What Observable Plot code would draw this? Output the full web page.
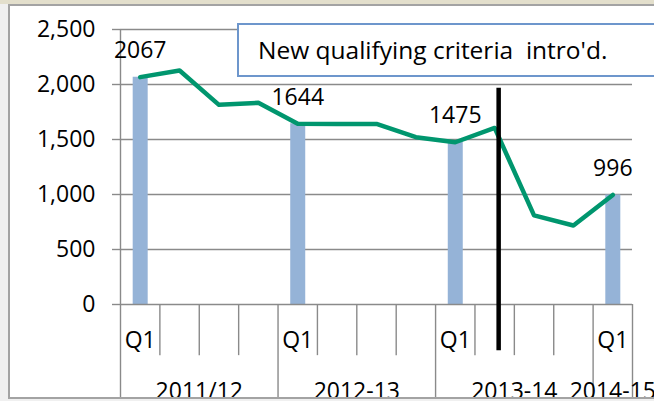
<!DOCTYPE html>
<html><head><meta charset="utf-8">
<script src="https://cdn.jsdelivr.net/npm/d3@7"></script>
<script src="https://cdn.jsdelivr.net/npm/@observablehq/plot@0.6"></script>
<style>
html,body{margin:0;padding:0;width:654px;height:401px;overflow:hidden;background:#f0f0f0;font-family:'Open Sans',sans-serif;}
#topstrip{position:absolute;left:0;top:0;width:654px;height:4px;background:#e3dfcc;}
#frame{position:absolute;left:8px;top:4px;width:700px;height:391px;border:2px solid #a3a3a3;border-right:none;background:#fff;}
#clip{position:absolute;left:10px;top:6px;width:644px;height:391px;overflow:hidden;}
#chart{position:absolute;left:-10px;top:-6px;}
#note{position:absolute;left:237px;top:23px;width:440px;height:50px;border:2px solid #6d96cc;background:#fff;padding-left:19px;line-height:50px;font-size:24.5px;white-space:pre;color:#000;}
</style></head>
<body>
<div id="topstrip"></div>
<div id="frame"></div>
<div id="clip"><div id="chart"></div></div>
<div id="note"></div>
<script>
// ---- data ----
const years = ["2011/12", "2012-13", "2013-14", "2014-15"];
const yearQuarterCounts = [4, 4, 4, 1];
const quarterLabels = ["Q1","","","","Q1","","","","Q1","","","","Q1"];
const lineValues = [2067, 2127, 1815, 1834, 1644, 1642, 1642, 1521, 1475, 1605, 810, 718, 996];
const barValues  = [2067, null, null, null, 1644, null, null, null, 1475, null, null, null, 996];
const yTicks = [0, 500, 1000, 1500, 2000, 2500];
const noteText = "New qualifying criteria  intro'd.";
const criteriaIndex = 9; // 2013-14 Q2

// ---- derived tables ----
const n = quarterLabels.length;
const rows = quarterLabels.map((q, i) => ({i, x: i + 0.5, q, line: lineValues[i], bar: barValues[i]}));
const bars = rows.filter(d => d.bar != null);
let start = 0;
const groups = years.map((y, k) => {
  const g = {year: y, start, end: start + yearQuarterCounts[k]};
  start += yearQuarterCounts[k];
  return g;
});
const groupBounds = new Set([0, ...groups.map(g => g.end)]);
const bounds = d3.range(0, n + 1);
const shortSeps = bounds.filter(b => !groupBounds.has(b));
const longSeps = bounds.filter(b => groupBounds.has(b));

const grid = "#8a8a8a";
const chart = Plot.plot({
  width: 654, height: 401,
  marginLeft: 120, marginRight: 22, marginTop: 29, marginBottom: 97,
  style: {background: "transparent", fontFamily: "'Open Sans', sans-serif", fontSize: "23px", color: "#000"},
  x: {type: "linear", domain: [0, n], axis: null},
  y: {domain: [0, 2500], axis: null},
  marks: [
    Plot.gridY(yTicks.slice(1), {stroke: grid, strokeOpacity: 1, strokeWidth: 1.4}),
    Plot.axisY(yTicks, {tickSize: 8, tickPadding: 17, tickFormat: d3.format(","), stroke: grid, strokeWidth: 1.4, fill: "#000", fontSize: 23, label: null}),
    Plot.ruleX(bars, {x: "x", y1: 0, y2: "bar", stroke: "#95b3d7", strokeWidth: 15, strokeLinecap: "butt"}),
    Plot.ruleX([0], {y1: 0, y2: 2500, stroke: grid, strokeWidth: 1.4}),
    Plot.ruleY([0], {stroke: grid, strokeWidth: 1.4}),
    Plot.ruleX(shortSeps, {x: d => d, y1: 0, y2: -465, stroke: grid, strokeWidth: 1.4}),
    Plot.ruleX(longSeps, {x: d => d, y1: 0, y2: -900, stroke: grid, strokeWidth: 1.4}),
    Plot.line(rows, {x: "x", y: "line", stroke: "#00966e", strokeWidth: 4.5, strokeLinejoin: "round"}),
    Plot.text(bars, {x: "x", y: "bar", text: d => String(d.bar), lineAnchor: "bottom", dy: -19, fontSize: 23, fill: "#000"}),
    Plot.text(rows, {x: "x", y: 0, text: "q", lineAnchor: "bottom", dy: 43, fontSize: 23, fill: "#000"}),
    Plot.text(groups, {x: d => (d.start + d.end) / 2, y: 0, text: "year", lineAnchor: "bottom", dy: 94, fontSize: 23, fill: "#000"}),
    Plot.ruleX([criteriaIndex], {x: d => d + 0.5, dx: 4, y1: -420, y2: 1965, stroke: "#000", strokeWidth: 4.5})
  ]
});
document.getElementById("chart").appendChild(chart);
document.getElementById("note").textContent = noteText;
</script>
</body></html>
